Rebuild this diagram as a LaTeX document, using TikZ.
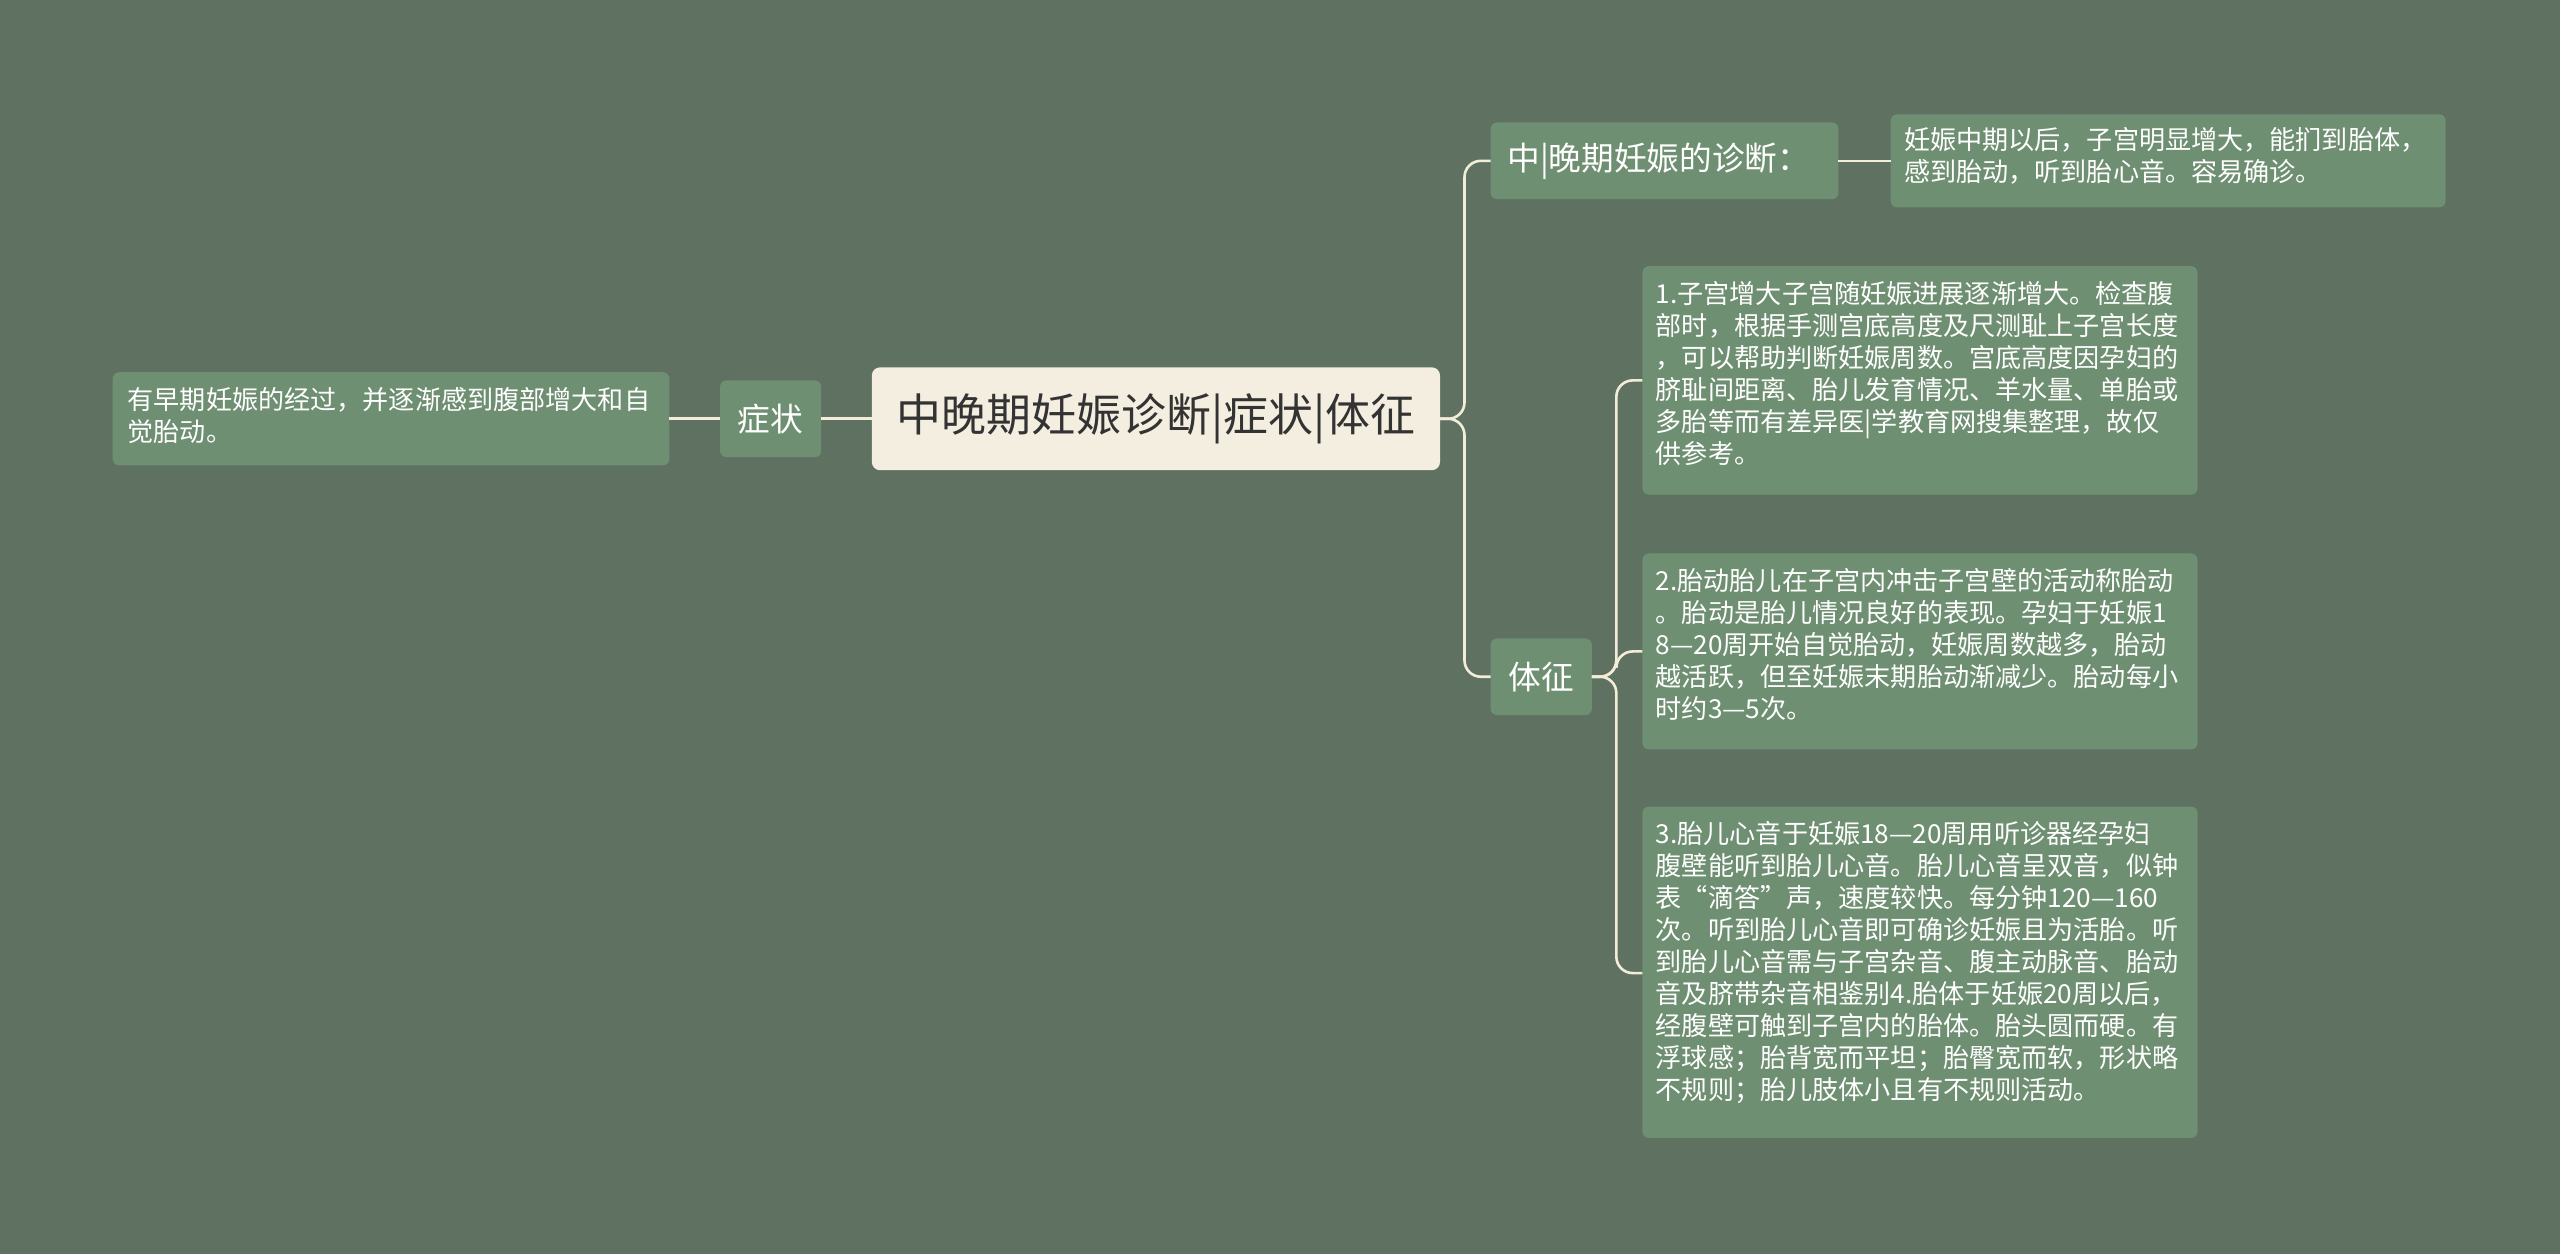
\documentclass[tikz,border=0pt]{standalone}
\usepackage{fontspec}
\setmainfont{Noto Sans CJK SC}
\begin{document}
\begin{tikzpicture}[x=1pt,y=-1pt,
  leaf/.style={text=white,font=\fontsize{16}{19.6}\selectfont,align=left,inner sep=0pt,anchor=north west,text width=#1},
  midtxt/.style={text=white,font=\fontsize{20}{23}\selectfont},
  conn/.style={draw=linec,line width=1.6pt,rounded corners=10pt}]
\definecolor{bgc}{HTML}{5F7262}
\definecolor{leafc}{HTML}{6F8F72}
\definecolor{linec}{HTML}{F2ECD8}
\definecolor{rootc}{HTML}{F3EEDF}
\fill[bgc] (0,0) rectangle (1568,768);
\useasboundingbox (0,0) rectangle (1568,768);
% boxes
\fill[rootc,rounded corners=5pt] (534,225) rectangle (882,288);
\node (root) at (708,256.5) {\fontsize{27.5}{30}\selectfont\color[HTML]{333333}中晚期妊娠诊断|症状|体征};
\path[fill=leafc,rounded corners=4pt] (441,233) rectangle (503,280);
\node[midtxt] (zz) at (472,256.5) {症状};
\path[fill=leafc,rounded corners=4pt] (69,228) rectangle (410,285);
\node[leaf=335pt] (l0) at (78,237) {有早期妊娠的经过，并逐渐感到腹部增大和自\\觉胎动。};
\path[fill=leafc,rounded corners=4pt] (913,75) rectangle (1126,122);
\node[midtxt] (zd) at (1016,98.5) {中|晚期妊娠的诊断：};
\path[fill=leafc,rounded corners=4pt] (1158,70) rectangle (1498,127);
\node[leaf=335pt] (l1) at (1166,78) {妊娠中期以后，子宫明显增大，能扪到胎体，\\感到胎动，听到胎心音。容易确诊。};
\path[fill=leafc,rounded corners=4pt] (913,391) rectangle (975,438);
\node[midtxt] (tz) at (944,414.5) {体征};
\path[fill=leafc,rounded corners=4pt] (1006,163) rectangle (1346,303);
\node[leaf=335pt] (la) at (1014,172) {1.子宫增大子宫随妊娠进展逐渐增大。检查腹\\部时，根据手测宫底高度及尺测耻上子宫长度\\，可以帮助判断妊娠周数。宫底高度因孕妇的\\脐耻间距离、胎儿发育情况、羊水量、单胎或\\多胎等而有差异医|学教育网搜集整理，故仅\\供参考。};
\path[fill=leafc,rounded corners=4pt] (1006,339) rectangle (1346,459);
\node[leaf=335pt] (lb) at (1014,348) {2.胎动胎儿在子宫内冲击子宫壁的活动称胎动\\。胎动是胎儿情况良好的表现。孕妇于妊娠1\\8—20周开始自觉胎动，妊娠周数越多，胎动\\越活跃，但至妊娠末期胎动渐减少。胎动每小\\时约3—5次。};
\path[fill=leafc,rounded corners=4pt] (1006,494) rectangle (1346,697);
\node[leaf=335pt] (lc) at (1014,503) {3.胎儿心音于妊娠18—20周用听诊器经孕妇\\腹壁能听到胎儿心音。胎儿心音呈双音，似钟\\表“滴答”声，速度较快。每分钟120—160\\次。听到胎儿心音即可确诊妊娠且为活胎。听\\到胎儿心音需与子宫杂音、腹主动脉音、胎动\\音及脐带杂音相鉴别4.胎体于妊娠20周以后，\\经腹壁可触到子宫内的胎体。胎头圆而硬。有\\浮球感；胎背宽而平坦；胎臀宽而软，形状略\\不规则；胎儿肢体小且有不规则活动。};
% connectors
\coordinate (rr) at (882,256.5);
\coordinate (rl) at (534,256.5);
\draw[conn] (rl) -- (503,256.5);
\draw[conn] (441,256.5) -- (410,256.5);
\draw[conn] (rr) -- (897,256.5) |- (913,98.5);
\draw[conn] (rr) -- (897,256.5) |- (913,414.5);
\draw[conn] (1126,98.5) -- (1158,98.5);
\draw[conn] (975,414.5) -- (990,414.5) |- (1006,233);
\draw[conn] (975,414.5) -- (990,414.5) |- (1006,399);
\draw[conn] (975,414.5) -- (990,414.5) |- (1006,596);
\end{tikzpicture}
\end{document}
